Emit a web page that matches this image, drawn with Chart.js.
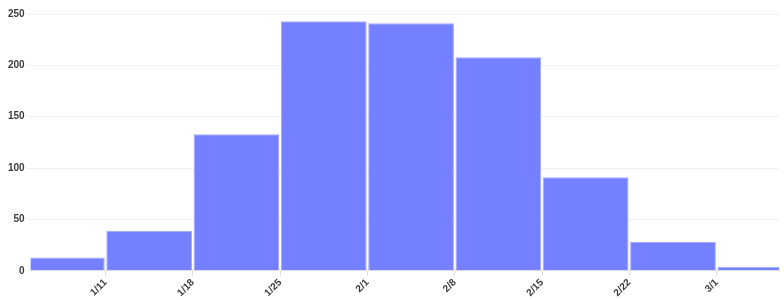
<!DOCTYPE html>
<html>
<head>
<meta charset="utf-8">
<script src="https://cdn.jsdelivr.net/npm/chart.js@4/dist/chart.umd.min.js"></script>
<style>
  html, body { margin: 0; padding: 0; background: #ffffff; }
  #wrap { width: 784px; height: 300px; position: relative; }
</style>
</head>
<body>
<div id="wrap"><canvas id="c"></canvas></div>
<script>
// Days counted from 1/11 (day 0)
const tickDays = [0, 7, 14, 21, 28, 35, 42, 49];
const tickLabels = ['1/11', '1/18', '1/25', '2/1', '2/8', '2/15', '2/22', '3/1'];
// Weekly bins: centre day of each bin
const binCenters = [-3.5, 3.5, 10.5, 17.5, 24.5, 31.5, 38.5, 45.5, 52.5];
const binCounts = [13, 39, 133, 243, 241, 208, 91, 28, 4];
const yTicks = [0, 50, 100, 150, 200, 250];
const xRange = [-6, 54];

const points = binCenters.map((x, i) => ({ x: x, y: binCounts[i] }));

Chart.defaults.font.family = "'Liberation Sans', Arial, sans-serif";
Chart.defaults.font.size = 10;
Chart.defaults.font.weight = 'bold';
Chart.defaults.color = '#3c3c3c';

new Chart(document.getElementById('c'), {
  type: 'bar',
  data: {
    datasets: [{
      data: points,
      backgroundColor: '#7480ff',
      borderColor: '#a3aaff',
      borderWidth: 1,
      barPercentage: 0.982,
      categoryPercentage: 1,
      clip: 0
    }]
  },
  options: {
    responsive: true,
    maintainAspectRatio: false,
    animation: false,
    layout: { padding: { left: 6, right: 5, top: 14, bottom: 0 } },
    plugins: { legend: { display: false }, tooltip: { enabled: false } },
    scales: {
      x: {
        type: 'linear',
        offset: false,
        min: xRange[0],
        max: xRange[1],
        afterBuildTicks: (scale) => { scale.ticks = tickDays.map(v => ({ value: v })); },
        ticks: {
          autoSkip: false,
          minRotation: 45,
          maxRotation: 45,
          padding: 1,
          callback: (value) => tickLabels[tickDays.indexOf(value)]
        },
        grid: { offset: false, drawOnChartArea: false, drawTicks: true, tickLength: 5, color: '#dcdcdc' },
        border: { display: true, color: '#e4e4e4' }
      },
      y: {
        min: 0,
        max: 250,
        afterBuildTicks: (scale) => { scale.ticks = yTicks.map(v => ({ value: v })); },
        ticks: { padding: 2 },
        grid: { color: '#f1f1f1', tickLength: 4 },
        border: { display: false }
      }
    }
  }
});
</script>
</body>
</html>
